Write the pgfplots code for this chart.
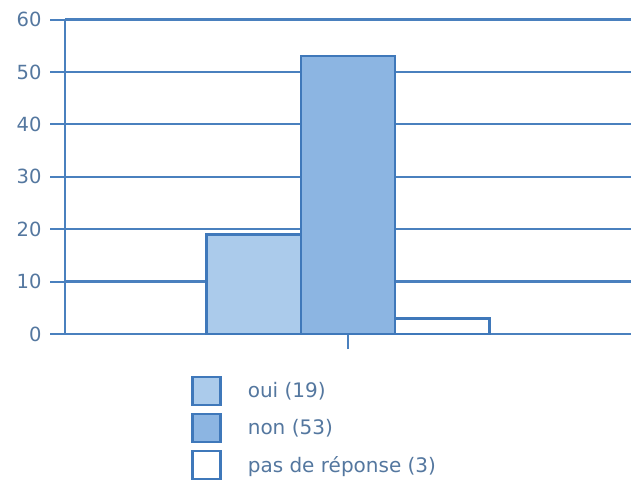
\documentclass[border=0pt]{standalone}
\usepackage{pgfplots}
\pgfplotsset{compat=1.18}
\usepackage{fontspec}
\setmainfont{DejaVu Sans}
\definecolor{gridc}{HTML}{4A80BE}
\definecolor{edgec}{HTML}{3F78BA}
\definecolor{ouic}{HTML}{ABCBEB}
\definecolor{nonc}{HTML}{8CB5E2}
\definecolor{txtc}{HTML}{54779F}
\begin{document}
\begin{tikzpicture}[x=1pt,y=1pt]
\useasboundingbox (0,0) rectangle (638,480);
\begin{axis}[
  at={(65pt,146pt)}, anchor=south west,
  scale only axis, width=566pt, height=314.5pt,
  xmin=-3, xmax=3, ymin=0, ymax=60,
  axis x line=bottom, axis y line=left,
  axis line style={-, draw=gridc, line width=2pt},
  ytick={0,10,...,60}, xtick={0}, xticklabels={},
  tick align=outside, major tick length=15pt,
  tick style={draw=gridc, line width=2pt},
  ymajorgrids, grid style={draw=gridc, line width=2.3pt},
  /pgf/number format/assume math mode=true,
  yticklabel style={font=\fontsize{19.5}{21}\selectfont, text=txtc, xshift=-5pt},
  ybar, bar width=1, bar shift=0pt,
  legend style={at={(0.223,-0.133)}, anchor=north west, draw=none, fill=none,
    inner sep=0pt, font=\fontsize{20}{22}\selectfont, text=txtc,
    nodes={inner sep=0pt}, row sep=7pt,
    /tikz/every odd column/.append style={column sep=26pt}},
  legend cell align=left,
  legend image code/.code={\draw[#1, line width=2.4pt] (1pt,-13.8pt) rectangle (29pt,13.8pt);},
]
\addplot[draw=edgec, fill=ouic, line width=2.6pt] coordinates {(-1,19)};
\addlegendentry{oui (19)}
\addplot[draw=edgec, fill=nonc, line width=2.6pt] coordinates {(0,53)};
\addlegendentry{non (53)}
\addplot[draw=edgec, fill=white, line width=2.6pt] coordinates {(1,3)};
\addlegendentry{pas de réponse (3)}
\end{axis}
\end{tikzpicture}
\end{document}
